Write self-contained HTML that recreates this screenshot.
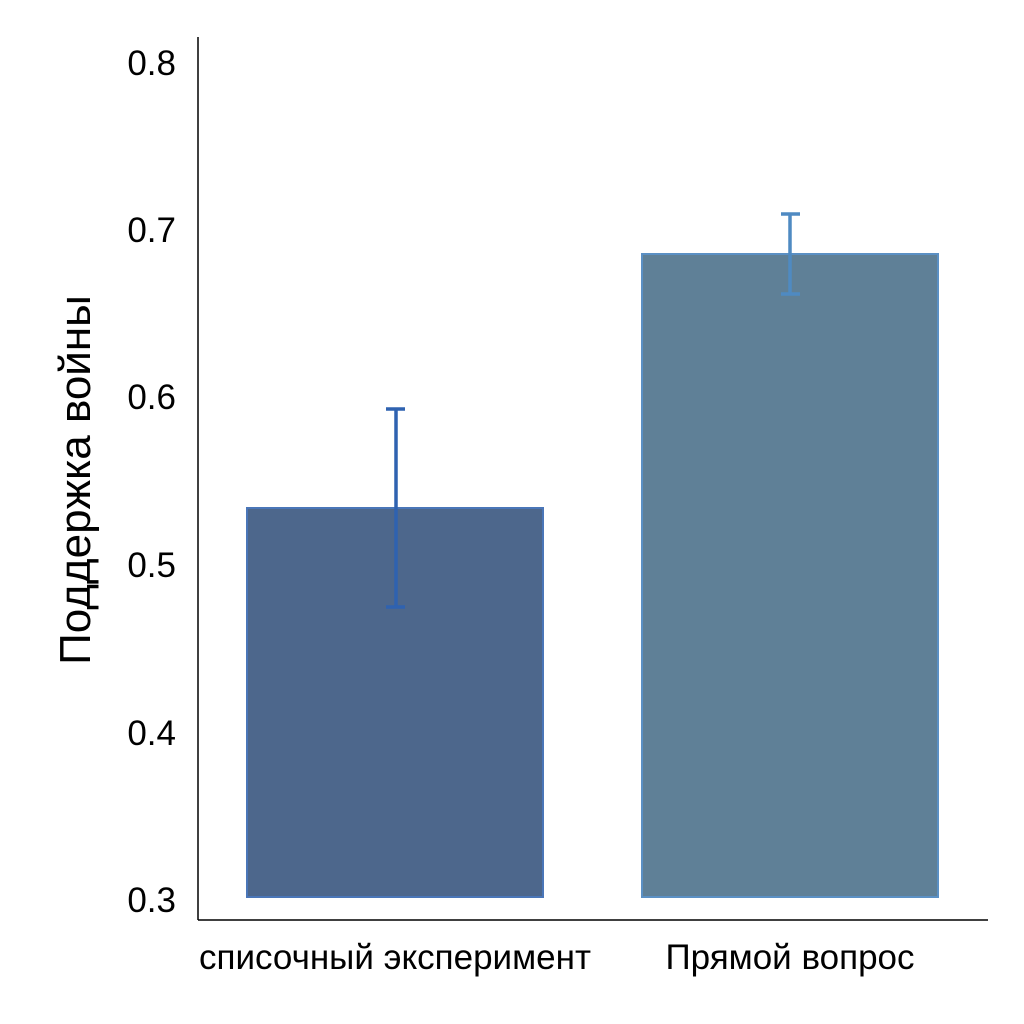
<!DOCTYPE html>
<html><head><meta charset="utf-8"><style>
html,body{margin:0;padding:0;background:#fff;}
svg{display:block;}
text{font-family:"Liberation Sans",Arial,sans-serif;fill:#000;}
</style></head><body>
<svg width="1024" height="1024" viewBox="0 0 1024 1024" xmlns="http://www.w3.org/2000/svg">
<rect width="1024" height="1024" fill="#fff"/>
<rect x="247" y="508" width="296" height="389" fill="#4d678c" stroke="#4a76b8" stroke-width="2"/>
<rect x="642" y="254" width="296" height="643" fill="#5f8097" stroke="#5b90c4" stroke-width="2"/>
<g stroke="#2f62b0" stroke-width="3.5">
<line x1="396" y1="409" x2="396" y2="607"/>
<line x1="386" y1="409" x2="405" y2="409"/>
<line x1="386" y1="607" x2="405" y2="607"/>
</g>
<g stroke="#4f8ac2" stroke-width="3.5">
<line x1="790" y1="214" x2="790" y2="294"/>
<line x1="781" y1="214" x2="800" y2="214"/>
<line x1="781" y1="294" x2="800" y2="294"/>
</g>
<line x1="198" y1="37" x2="198" y2="920" stroke="#000" stroke-width="1.5"/>
<line x1="198" y1="920" x2="988" y2="920" stroke="#000" stroke-width="1.5"/>
<g font-size="35" text-anchor="end">
<text x="176" y="75">0.8</text>
<text x="176" y="242">0.7</text>
<text x="176" y="409">0.6</text>
<text x="176" y="577">0.5</text>
<text x="176" y="745">0.4</text>
<text x="176" y="912">0.3</text>
</g>
<g font-size="35" text-anchor="middle">
<text x="395" y="969">списочный эксперимент</text>
<text x="790" y="969">Прямой вопрос</text>
</g>
<text transform="translate(90,480) rotate(-90)" font-size="44" text-anchor="middle">Поддержка войны</text>
</svg>
</body></html>
